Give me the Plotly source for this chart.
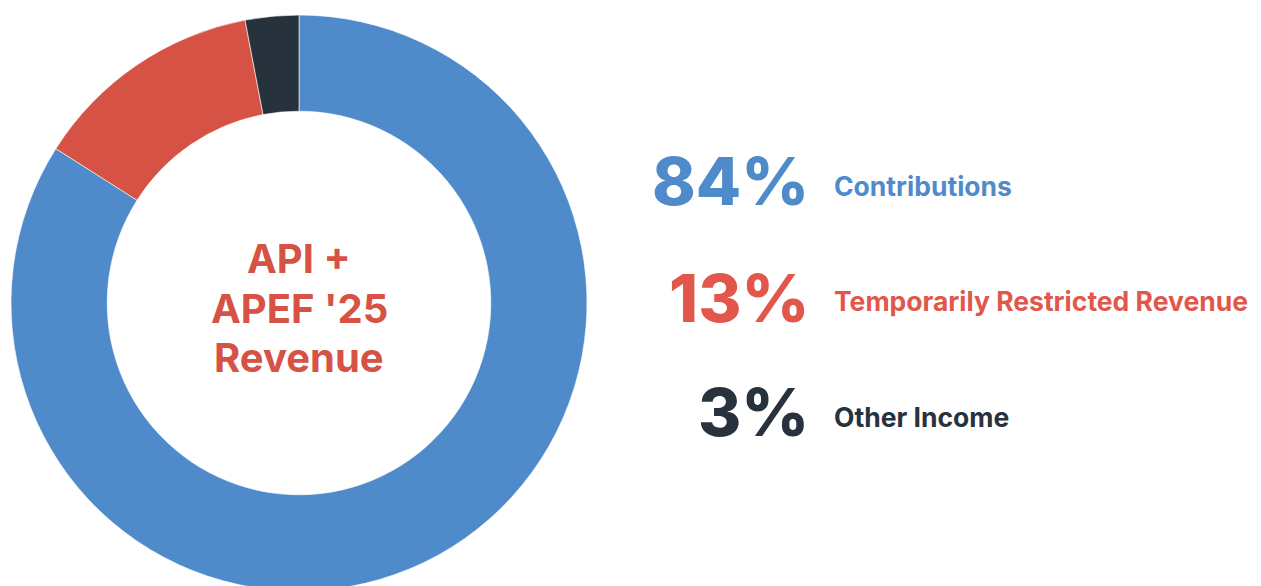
import plotly.graph_objects as go

W, H = 1261, 586
OFF = 8  # page body margin offset

categories = ["Contributions", "Temporarily Restricted Revenue", "Other Income"]
values = [84, 13, 3]
pct_labels = ["84%", "13%", "3%"]
slice_colors = ["#4F8BCA", "#D65244", "#27323C"]
text_colors = ["#4F8BCA", "#E2574B", "#27323C"]
center_title = ["API +", "APEF '25", "Revenue"]

FONT = "Inter"

cx, cy, R = 299 - OFF, 303 - OFF, 288

fig = go.Figure()
fig.add_trace(go.Pie(
    labels=categories,
    values=values,
    sort=False,
    direction="clockwise",
    rotation=0,
    hole=0.666,
    marker=dict(colors=slice_colors, line=dict(color="white", width=0.6)),
    textinfo="none",
    hoverinfo="label+percent",
    showlegend=False,
    domain=dict(x=[(cx - R) / W, (cx + R) / W], y=[1 - (cy + R) / H, 1 - (cy - R) / H]),
))

def py(ypix):
    return 1 - (ypix - OFF) / H

# right-side legend
pct_y = [181, 298, 412]
lab_y = [186, 301, 417]
for pct, cat, col, yp, yl in zip(pct_labels, categories, text_colors, pct_y, lab_y):
    fig.add_annotation(x=803 / W, y=py(yp), xref="paper", yref="paper",
                       text=pct, showarrow=False, xanchor="right", yanchor="middle",
                       font=dict(family=FONT, size=66, color=col, weight=800))
    fig.add_annotation(x=824 / W, y=py(yl), xref="paper", yref="paper",
                       text=cat, showarrow=False, xanchor="left", yanchor="middle",
                       font=dict(family=FONT, size=26.5, color=col, weight=700))

# center title
for yy, line in zip([258, 308, 357], center_title):
    fig.add_annotation(x=(299 - OFF) / W, y=py(yy), xref="paper", yref="paper",
                       text=line, showarrow=False, xanchor="center", yanchor="middle",
                       font=dict(family=FONT, size=40, color="#D65244", weight=700))

fig.update_layout(
    width=W, height=H,
    margin=dict(l=0, r=0, t=0, b=0),
    paper_bgcolor="white",
    plot_bgcolor="white",
)

fig.write_html("out.html")
